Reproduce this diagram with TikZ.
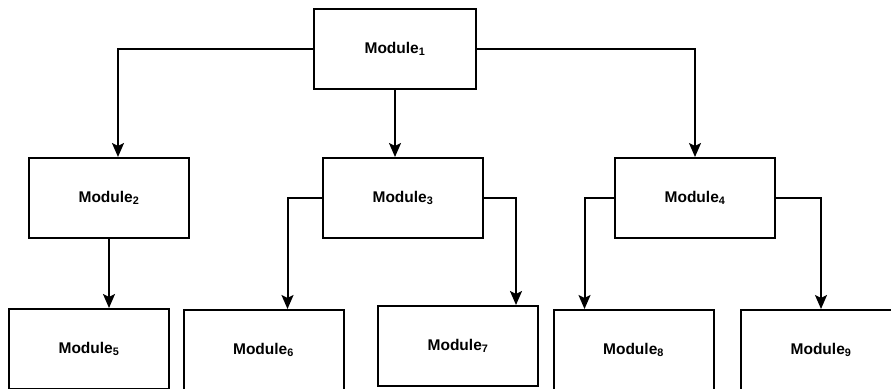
\documentclass[tikz,border=0pt]{standalone}
\usepackage{fontspec}
\setmainfont{Liberation Sans}
\usepackage{tikz}
\usetikzlibrary{arrows.meta}

\begin{document}
\begin{tikzpicture}[
    x=1pt, y=-1pt,
    font=\fontsize{15.5}{18}\selectfont\bfseries,
    module/.style={rectangle, draw=black, line width=2pt, fill=white,
      minimum width=160pt, minimum height=80pt, inner sep=0pt},
    link/.style={line width=2pt, -{Stealth[length=14pt, width=12pt, inset=3pt]}},
  ]
    \clip (0,0) rectangle (891,388);
    \fill[white] (0,0) rectangle (891,388);

    \node[module, minimum width=162pt] (m1) at (395,49) {Module\textsubscript{1}};
    \node[module] (m2) at (109,198) {Module\textsubscript{2}};
    \node[module] (m3) at (403,198) {Module\textsubscript{3}};
    \node[module] (m4) at (695,198) {Module\textsubscript{4}};
    \node[module] (m5) at (89,349) {Module\textsubscript{5}};
    \node[module] (m6) at (263.5,350) {Module\textsubscript{6}};
    \node[module] (m7) at (458,346) {Module\textsubscript{7}};
    \node[module] (m8) at (633.5,350) {Module\textsubscript{8}};
    \node[module] (m9) at (821,350) {Module\textsubscript{9}};

    \draw[link] (m1.west) -| ([xshift=9pt]m2.north);
    \draw[link] (m1.south) -- (m1.south |- m3.north);
    \draw[link] (m1.east) -| (m4.north);
    \draw[link] (m2.south) -- (m2.south |- m5.north);
    \draw[link] (m3.west) -| ([xshift=24pt]m6.north);
    \draw[link] (m3.east) -| ([xshift=58pt]m7.north);
    \draw[link] (m4.west) -| ([xshift=-49pt]m8.north);
    \draw[link] (m4.east) -| (m9.north);
  \end{tikzpicture}
\end{document}
